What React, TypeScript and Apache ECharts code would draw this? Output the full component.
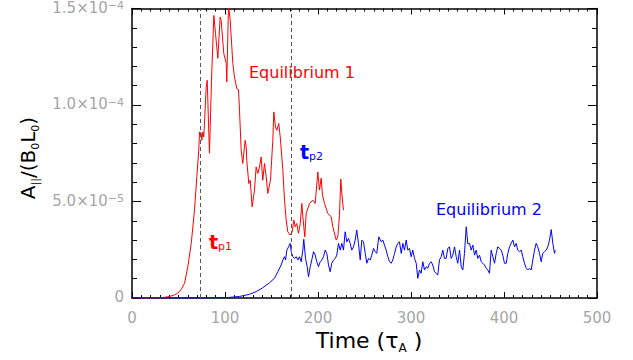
import React, { useEffect, useRef } from 'react';
import * as echarts from 'echarts';

// Time in units of tau_A, amplitude in units of 1e-5 (A_par / (B0 L0))
const eq1Time = [0, 18.8, 29.6, 35.0, 40.3, 45.7, 49.2, 53.2, 56.5, 60.0, 63.7, 67.2, 69.7, 71.8, 72.6, 74.4, 75.1, 76.1, 77.2, 79.8, 80.9, 82.6, 83.3, 85.5, 88.0, 89.8, 92.3, 94.8, 95.9, 98.7, 101.3, 101.9, 103.8, 105.6, 108.4, 110.2, 112.7, 114.5, 115.6, 117.4, 119.1, 121.7, 122.8, 123.4, 125.6, 127.1, 129.2, 131.7, 133.5, 135.3, 137.1, 138.9, 140.6, 142.5, 144.3, 146.0, 148.9, 151.4, 152.5, 154.3, 155.7, 157.8, 159.4, 162.2, 164.0, 165.8, 167.5, 170.1, 172.3, 174.0, 175.5, 177.2, 179.0, 180.9, 182.6, 183.7, 185.8, 187.3, 190.9, 194.4, 197.0, 199.8, 201.6, 203.4, 204.8, 207.0, 210.5, 214.2, 215.9, 219.6, 221.3, 223.1, 224.5, 225.8, 227.4];
const eq1Amp = [0, 0, 0.01, 0.03, 0.08, 0.16, 0.24, 0.47, 0.76, 1.62, 2.83, 4.55, 6.28, 7.66, 8.60, 8.54, 8.17, 8.60, 8.34, 10.93, 11.28, 8.54, 7.50, 11.28, 14.64, 13.71, 12.42, 14.55, 14.38, 12.67, 12.16, 11.19, 15.16, 14.38, 12.16, 11.45, 10.85, 10.80, 9.73, 7.66, 6.97, 8.17, 7.83, 7.14, 5.93, 6.10, 4.72, 5.59, 6.79, 6.45, 6.79, 7.31, 6.10, 6.97, 6.28, 5.42, 6.10, 8.17, 9.64, 8.86, 8.69, 9.04, 8.34, 6.62, 5.07, 4.04, 3.43, 3.26, 3.43, 4.04, 3.69, 3.86, 3.35, 3.86, 4.90, 4.21, 3.17, 4.38, 4.90, 5.07, 4.90, 6.53, 5.59, 6.21, 5.33, 4.90, 4.38, 4.21, 3.69, 3.00, 3.17, 4.29, 6.16, 5.33, 4.55];

const eq2Time = [0, 72.6, 104.8, 115.6, 126.3, 133.5, 140.6, 147.8, 153.2, 156.8, 160.4, 162.2, 164.0, 165.1, 166.5, 168.3, 170.1, 171.2, 172.9, 174.7, 176.6, 178.3, 180.1, 181.9, 183.7, 184.7, 186.6, 188.4, 189.8, 191.6, 193.3, 195.2, 197.0, 198.7, 200.5, 202.4, 204.1, 205.9, 207.7, 209.5, 211.3, 213.1, 214.8, 216.7, 218.5, 220.2, 222.0, 223.9, 225.6, 227.4, 229.2, 231.0, 232.8, 234.6, 236.3, 238.2, 240.0, 241.7, 243.5, 245.4, 247.1, 248.9, 250.8, 252.5, 254.3, 256.1, 257.8, 259.7, 261.5, 263.2, 265.4, 268.0, 269.7, 271.5, 273.3, 275.1, 276.9, 278.7, 280.4, 282.3, 284.1, 285.8, 287.6, 289.5, 291.2, 293.0, 294.8, 296.6, 298.4, 300.2, 301.9, 303.8, 305.6, 307.3, 309.1, 310.9, 312.7, 314.5, 316.3, 318.1, 319.9, 321.7, 323.4, 325.3, 327.1, 328.8, 330.6, 332.5, 334.2, 336.0, 337.8, 339.6, 341.4, 343.2, 344.9, 346.8, 348.6, 350.3, 352.2, 354.0, 355.7, 357.5, 359.4, 361.1, 362.9, 364.7, 366.5, 368.3, 370.1, 371.8, 373.7, 375.5, 377.2, 379.0, 380.9, 382.6, 384.4, 386.2, 388.0, 389.8, 391.6, 393.3, 395.2, 397.0, 398.7, 400.5, 402.4, 404.1, 405.9, 407.7, 409.5, 411.3, 413.1, 414.8, 416.7, 418.5, 420.2, 422.0, 423.9, 425.6, 427.4, 429.2, 431.0, 432.8, 434.6, 436.3, 438.2, 440.0, 441.7, 443.5, 445.4, 447.1, 448.9, 450.8, 452.5, 454.3, 455.1];
const eq2Amp = [0, 0, 0.03, 0.08, 0.19, 0.33, 0.53, 0.79, 1.02, 1.36, 1.71, 1.97, 2.14, 1.97, 2.48, 2.65, 2.83, 2.40, 2.14, 2.05, 2.14, 1.97, 2.14, 1.88, 2.48, 3.04, 2.05, 1.62, 1.10, 1.62, 1.97, 2.40, 2.22, 1.88, 1.62, 1.88, 1.97, 2.14, 2.48, 2.31, 1.71, 1.36, 1.80, 1.97, 2.05, 2.22, 2.83, 2.48, 2.83, 2.48, 3.43, 2.91, 3.09, 2.83, 2.48, 2.65, 3.00, 3.52, 2.83, 1.97, 3.00, 2.91, 2.31, 1.80, 2.05, 1.97, 2.22, 2.57, 2.40, 2.31, 3.17, 2.91, 3.00, 2.74, 2.48, 2.14, 1.88, 1.80, 1.97, 2.31, 2.65, 2.83, 2.91, 2.31, 2.83, 2.48, 3.00, 2.48, 2.57, 2.14, 2.48, 2.05, 1.80, 1.02, 1.45, 1.28, 1.88, 1.45, 1.62, 1.54, 1.80, 1.88, 1.71, 1.36, 1.28, 1.19, 1.97, 2.14, 2.48, 2.05, 2.05, 2.57, 2.65, 2.05, 2.22, 2.65, 2.14, 1.80, 2.48, 1.62, 1.45, 2.31, 3.69, 2.80, 2.83, 2.48, 2.74, 2.22, 2.48, 2.05, 2.22, 1.88, 1.80, 1.71, 1.54, 1.45, 1.28, 2.48, 2.14, 1.80, 2.31, 2.65, 2.57, 2.48, 2.22, 1.80, 1.80, 2.31, 2.65, 2.83, 3.00, 2.65, 2.83, 2.48, 2.40, 2.48, 2.14, 1.80, 1.54, 1.45, 1.54, 1.45, 1.97, 2.48, 2.83, 2.65, 2.31, 1.88, 2.31, 2.40, 2.48, 2.65, 3.00, 3.55, 2.83, 2.31, 2.48];

const peakTimes = [73, 171]; // t_p1, t_p2
const xTickLabels = ['0', '100', '200', '300', '400', '500'];
const yTickValues = [0, 5, 10, 15];
const yTickMantissa = ['0', '5.0×10', '1.0×10', '1.5×10'];
const yTickExponent = ['', '−5', '−4', '−4'];

const FONT = 'DejaVu Sans';
const GRAY = '#a6a6a6';
const RED = '#ff0000';
const BLUE = '#0000ff';

function zip(t: number[], v: number[]) {
  const n = Math.min(t.length, v.length);
  const out: number[][] = [];
  for (let i = 0; i < n; i++) out.push([t[i], v[i]]);
  return out;
}

function buildOption() {
  const xCommon = {
    type: 'value',
    min: 0,
    max: 500,
    interval: 100,
    axisLine: { show: true, onZero: false, lineStyle: { color: '#000', width: 1.5 } },
    axisTick: { show: true, inside: true, length: 6, lineStyle: { color: '#000', width: 1 } },
    minorTick: { show: true, splitNumber: 10, length: 3, lineStyle: { color: '#000', width: 1 } },
    splitLine: { show: false },
    minorSplitLine: { show: false },
  };
  const yCommon = {
    type: 'value',
    min: 0,
    max: 15,
    interval: 5,
    axisLine: { show: true, onZero: false, lineStyle: { color: '#000', width: 1.5 } },
    axisTick: { show: true, inside: true, length: 9, lineStyle: { color: '#000', width: 1 } },
    minorTick: { show: true, splitNumber: 5, length: 5, lineStyle: { color: '#000', width: 1 } },
    splitLine: { show: false },
    minorSplitLine: { show: false },
  };
  return {
    animation: false,
    backgroundColor: '#fff',
    grid: { left: 132, top: 8, width: 465, height: 290, containLabel: false },
    xAxis: [
      {
        ...xCommon,
        position: 'bottom',
        axisLabel: {
          color: GRAY,
          fontFamily: FONT,
          fontSize: 15,
          margin: 12,
          formatter: (v: number) => xTickLabels[Math.round(v / 100)] ?? '',
        },
      },
      { ...xCommon, position: 'top', axisLabel: { show: false } },
    ],
    yAxis: [
      {
        ...yCommon,
        position: 'left',
        axisLabel: {
          color: GRAY,
          fontFamily: FONT,
          margin: 8,
          formatter: (v: number) => {
            const i = yTickValues.indexOf(Math.round(v));
            if (i < 0) return '';
            if (!yTickExponent[i]) return `{m|${yTickMantissa[i]}}`;
            return `{m|${yTickMantissa[i]}}{e|${yTickExponent[i]}}`;
          },
          rich: {
            m: { fontSize: 15, fontFamily: FONT, color: GRAY, lineHeight: 17, verticalAlign: 'top' },
            e: { fontSize: 11, fontFamily: FONT, color: GRAY, lineHeight: 12, verticalAlign: 'top' },
          },
        },
      },
      { ...yCommon, position: 'right', axisLabel: { show: false } },
    ],
    series: [
      {
        name: 'Equilibrium 1',
        type: 'line',
        xAxisIndex: 0,
        yAxisIndex: 0,
        data: zip(eq1Time, eq1Amp),
        showSymbol: false,
        symbol: 'none',
        clip: true,
        lineStyle: { color: RED, width: 1 },
        itemStyle: { color: RED },
        markLine: {
          silent: true,
          symbol: ['none', 'none'],
          label: { show: false },
          lineStyle: { color: '#555', width: 1, type: [4, 3] },
          data: peakTimes.map((t) => ({ xAxis: t })),
        },
      },
      {
        name: 'Equilibrium 2',
        type: 'line',
        xAxisIndex: 0,
        yAxisIndex: 0,
        data: zip(eq2Time, eq2Amp),
        showSymbol: false,
        symbol: 'none',
        clip: true,
        lineStyle: { color: BLUE, width: 1 },
        itemStyle: { color: BLUE },
      },
    ],
    graphic: [
      {
        type: 'text',
        x: 29,
        y: 158,
        rotation: Math.PI / 2,
        style: {
          text: '{b|A}{s|||}{b|/(B}{s|0}{b|L}{s|0}{b|)}',
          fill: '#000',
          textAlign: 'center',
          textVerticalAlign: 'middle',
          fontSize: 20,
          fontFamily: FONT,
          rich: {
            b: { fontSize: 20, fontFamily: FONT, lineHeight: 23, verticalAlign: 'top' },
            s: { fontSize: 11, fontFamily: FONT, lineHeight: 11, padding: [12, 0, 0, 0], verticalAlign: 'top' },
          },
        },
      },
      {
        type: 'text',
        x: 369,
        y: 329,
        style: {
          text: '{b|Time (}{b|τ}{s|A}{b| )}',
          fill: '#000',
          textAlign: 'center',
          textVerticalAlign: 'top',
          fontSize: 22,
          fontFamily: FONT,
          rich: {
            b: { fontSize: 22, fontFamily: FONT, lineHeight: 26, verticalAlign: 'top' },
            s: { fontSize: 12, fontFamily: FONT, lineHeight: 12, padding: [13, 0, 0, 0], verticalAlign: 'top' },
          },
        },
      },
      {
        type: 'text',
        x: 249,
        y: 72,
        style: {
          text: 'Equilibrium 1',
          fill: RED,
          fontSize: 16,
          fontFamily: FONT,
          textAlign: 'left',
          textVerticalAlign: 'middle',
        },
      },
      {
        type: 'text',
        x: 436,
        y: 209,
        style: {
          text: 'Equilibrium 2',
          fill: BLUE,
          fontSize: 16,
          fontFamily: FONT,
          textAlign: 'left',
          textVerticalAlign: 'middle',
        },
      },
      {
        type: 'text',
        x: 209,
        y: 232,
        style: {
          text: '{t|t}{s|p1}',
          fill: RED,
          textAlign: 'left',
          textVerticalAlign: 'top',
          fontSize: 19,
          fontFamily: FONT,
          rich: {
            t: { fontSize: 19, fontFamily: FONT, lineHeight: 20, verticalAlign: 'top', fontWeight: 'bold' },
            s: { fontSize: 11, fontFamily: FONT, lineHeight: 11, padding: [9, 0, 0, 0], verticalAlign: 'top' },
          },
        },
      },
      {
        type: 'text',
        x: 300,
        y: 142,
        style: {
          text: '{t|t}{s|p2}',
          fill: BLUE,
          textAlign: 'left',
          textVerticalAlign: 'top',
          fontSize: 19,
          fontFamily: FONT,
          rich: {
            t: { fontSize: 19, fontFamily: FONT, lineHeight: 20, verticalAlign: 'top', fontWeight: 'bold' },
            s: { fontSize: 11, fontFamily: FONT, lineHeight: 11, padding: [9, 0, 0, 0], verticalAlign: 'top' },
          },
        },
      },
    ],
  };
}

export default function App() {
  const ref = useRef<HTMLDivElement>(null);
  useEffect(() => {
    if (!ref.current) return;
    const chart = echarts.init(ref.current, null, { renderer: 'svg' });
    chart.setOption(buildOption() as any);
    return () => chart.dispose();
  }, []);
  return (
    <div
      ref={ref}
      style={{ position: 'absolute', left: 0, top: 0, width: 633, height: 360, background: '#fff' }}
    />
  );
}
